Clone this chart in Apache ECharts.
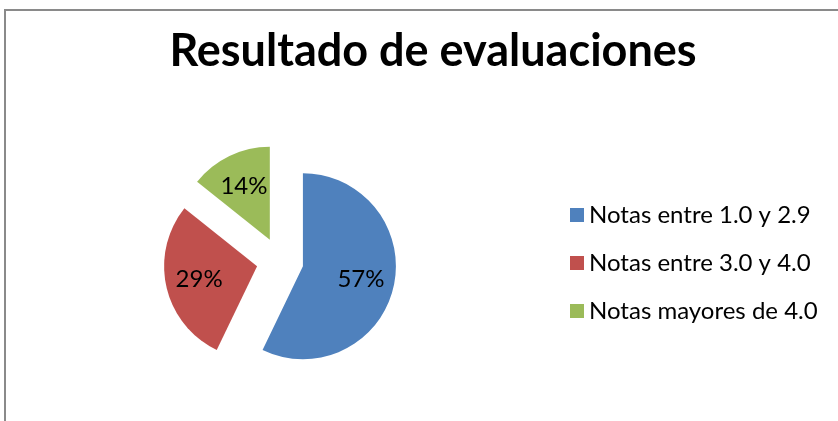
<!DOCTYPE html>
<html><head><meta charset="utf-8">
<script src="https://cdn.jsdelivr.net/npm/echarts@6/dist/echarts.min.js"></script>
<style>html,body{margin:0;padding:0;background:#fff}#c{width:838px;height:421px}</style>
</head><body><div id="c"></div>
<script>
const titleText = 'Resultado de evaluaciones';
const categories = ['Notas entre 1.0 y 2.9', 'Notas entre 3.0 y 4.0', 'Notas mayores de 4.0'];
const values = [4, 2, 1];
const colors = ['#4F81BD', '#C0504D', '#9BBB59'];

const FONT = 'Lato';
const center = [280, 261];
const offset = 23.5;
const pieData = categories.map((n, i) => ({ name: n, value: values[i], selected: true, itemStyle: { color: colors[i] } }));
const labelData = categories.map((n, i) => ({ name: n, value: values[i], selected: true }));

const chart = echarts.init(document.getElementById('c'));
chart.setOption({
  animation: false,
  color: colors,
  graphic: [{ type: 'rect', shape: { x: 5, y: 10, width: 900, height: 500 }, style: { fill: 'none', stroke: '#8a8a8a', lineWidth: 2 }, silent: true }],
  title: {
    text: titleText, left: 428, top: 24, textAlign: 'center',
    textStyle: { fontFamily: FONT, fontWeight: 'bold', fontSize: 45, color: '#000' }
  },
  legend: {
    orient: 'vertical', left: 565, top: 197, icon: 'rect', itemWidth: 14, itemHeight: 14, itemGap: 22,
    data: categories,
    textStyle: { fontFamily: FONT, fontSize: 24, lineHeight: 26, color: '#000' }
  },
  series: [{
    type: 'pie', center: center, radius: 93, startAngle: 90, clockwise: true,
    selectedMode: 'multiple', selectedOffset: offset, silent: true,
    label: { show: false }, labelLine: { show: false },
    data: pieData
  }, {
    type: 'pie', center: center, radius: 113, startAngle: 90, clockwise: true,
    selectedMode: 'multiple', selectedOffset: offset, silent: true,
    itemStyle: { color: 'rgba(0,0,0,0)' },
    label: { show: true, position: 'inside', formatter: p => Math.round(p.percent) + '%', fontFamily: FONT, fontSize: 24, color: '#000' },
    labelLine: { show: false },
    data: labelData
  }]
});
</script></body></html>
